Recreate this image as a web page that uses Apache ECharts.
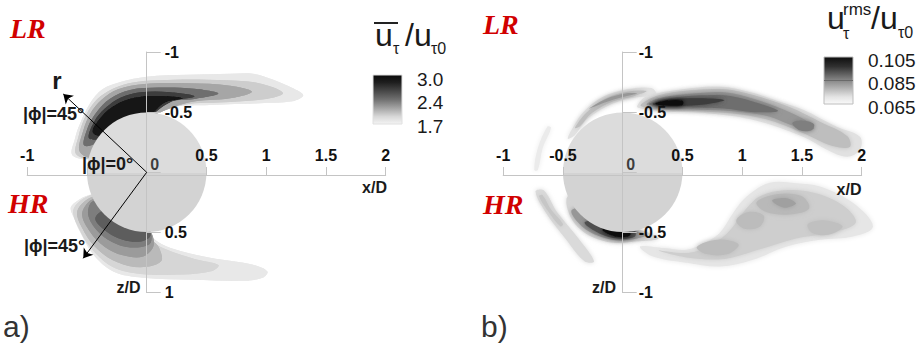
<!DOCTYPE html>
<html><head><meta charset="utf-8">
<script src="https://cdn.jsdelivr.net/npm/echarts@6/dist/echarts.min.js"></script>
<style>html,body{margin:0;padding:0;background:#fff}#c{width:916px;height:345px}</style>
</head><body><div id="c"></div>
<script>
// ---------- data ----------
const xTicks = [-1, -0.5, 0, 0.5, 1, 1.5, 2];
const xTickLabelsA = ['-1', '', '', '0.5', '1', '1.5', '2'];
const xTickLabelsB = ['-1', '-0.5', '', '0.5', '1', '1.5', '2'];
const zTicks = [-1, -0.5, 0, 0.5, 1];
const zTickLabelsA = ['-1', '-0.5', '', '0.5', '1'];
const zTickLabelsB = ['-1', '-0.5', '', '-0.5', '-1'];
const cylinderRadius = 0.5;
const rangeA = [1.7, 3.0];
const rangeB = [0.065, 0.105];
const colorbarLabelsA = ['3.0', '2.4', '1.7'];
const colorbarLabelsB = ['0.105', '0.085', '0.065'];
const arrowsA = [[[0, 0], [-0.698, -0.651]], [[0, 0], [-0.531, 0.715]]];

// panel a: mean wall shear contours (level value, polygon in x/D, z/D)
const levelsA = [1.754, 1.90, 2.11, 2.41, 2.68, 2.89,
                 1.754, 1.85, 2.00, 2.17, 2.33, 2.50];
const shapesA = [
  [[-0.62,-0.14],[-0.60,-0.28],[-0.56,-0.40],[-0.47,-0.58],[-0.37,-0.69],[-0.22,-0.75],[0.0,-0.795],[0.34,-0.81],[0.70,-0.82],[0.89,-0.82],[1.06,-0.77],[1.22,-0.70],[1.31,-0.64],[1.22,-0.59],[0.95,-0.575],[0.53,-0.56],[0.2,-0.54],[0.0,-0.45],[-0.3,-0.3],[-0.42,-0.12]],
  [[-0.59,-0.15],[-0.57,-0.30],[-0.52,-0.45],[-0.44,-0.58],[-0.32,-0.675],[-0.15,-0.74],[0.1,-0.765],[0.5,-0.77],[0.85,-0.755],[1.05,-0.71],[1.14,-0.655],[1.0,-0.61],[0.7,-0.585],[0.3,-0.56],[0.0,-0.45],[-0.3,-0.3],[-0.42,-0.12]],
  [[-0.56,-0.17],[-0.53,-0.35],[-0.47,-0.49],[-0.38,-0.60],[-0.24,-0.69],[-0.02,-0.735],[0.35,-0.74],[0.7,-0.72],[0.88,-0.67],[0.7,-0.615],[0.35,-0.58],[0.0,-0.45],[-0.3,-0.3],[-0.42,-0.12]],
  [[-0.52,-0.22],[-0.49,-0.38],[-0.42,-0.50],[-0.31,-0.61],[-0.14,-0.685],[0.1,-0.705],[0.4,-0.695],[0.6,-0.655],[0.4,-0.61],[0.15,-0.58],[0.0,-0.45],[-0.3,-0.3]],
  [[-0.48,-0.28],[-0.44,-0.42],[-0.35,-0.53],[-0.22,-0.62],[-0.05,-0.665],[0.2,-0.665],[0.4,-0.63],[0.2,-0.585],[0.0,-0.45],[-0.3,-0.3]],
  [[-0.45,-0.33],[-0.38,-0.46],[-0.26,-0.56],[-0.1,-0.62],[0.1,-0.635],[0.3,-0.615],[0.15,-0.58],[0,-0.45],[-0.3,-0.3]],
  [[-0.63,0.28],[-0.60,0.40],[-0.56,0.49],[-0.45,0.68],[-0.28,0.825],[-0.03,0.877],[0.39,0.894],[0.81,0.902],[0.97,0.877],[1.01,0.825],[0.89,0.769],[0.53,0.711],[0.2,0.63],[0.05,0.545],[0,0.45],[-0.3,0.3],[-0.42,0.18]],
  [[-0.61,0.30],[-0.55,0.50],[-0.44,0.66],[-0.28,0.79],[-0.05,0.845],[0.3,0.85],[0.55,0.82],[0.6,0.77],[0.4,0.72],[0.15,0.635],[0.02,0.55],[0,0.45],[-0.3,0.3],[-0.42,0.18]],
  [[-0.58,0.32],[-0.52,0.50],[-0.40,0.65],[-0.24,0.75],[-0.05,0.79],[0.12,0.74],[0.1,0.62],[0.02,0.54],[0,0.45],[-0.3,0.3],[-0.43,0.2]],
  [[-0.54,0.34],[-0.47,0.50],[-0.35,0.62],[-0.2,0.69],[-0.03,0.7],[0.06,0.6],[0,0.45],[-0.3,0.3],[-0.44,0.22]],
  [[-0.49,0.35],[-0.41,0.49],[-0.29,0.58],[-0.14,0.625],[0.02,0.6],[0.04,0.53],[0,0.45],[-0.3,0.3],[-0.45,0.24]],
  [[-0.43,0.38],[-0.34,0.49],[-0.2,0.56],[-0.05,0.575],[0.03,0.53],[0,0.45],[-0.3,0.3]]
];

// panel b: rms wall shear contours
const levelsB = [0.0678, 0.0736, 0.0800,
                 0.0678, 0.0736, 0.0800, 0.0868, 0.0951, 0.1025, 0.0840,
                 0.0700, 0.0800, 0.0920, 0.1025,
                 0.0690, 0.0722,
                 0.0670, 0.0710, 0.0745, 0.0740, 0.0740, 0.0732, 0.0785,
                 0.0662];
const shapesB = [
  [[-0.46,-0.28],[-0.40,-0.40],[-0.33,-0.50],[-0.17,-0.625],[0.04,-0.69],[0.24,-0.70],[0.28,-0.645],[0.06,-0.615],[-0.13,-0.55],[-0.30,-0.44],[-0.40,-0.31]],
  [[-0.40,-0.37],[-0.30,-0.50],[-0.15,-0.61],[0.04,-0.67],[0.2,-0.675],[0.1,-0.635],[-0.08,-0.59],[-0.26,-0.49],[-0.36,-0.38]],
  [[-0.28,-0.53],[-0.14,-0.61],[0.02,-0.655],[0.12,-0.655],[0.0,-0.625],[-0.15,-0.58]],
  [[0.12,-0.547],[0.2,-0.63],[0.5,-0.69],[0.81,-0.713],[1.09,-0.661],[1.3,-0.59],[1.51,-0.52],[1.79,-0.378],[1.985,-0.295],[1.985,-0.187],[1.877,-0.129],[1.71,-0.187],[1.51,-0.295],[1.09,-0.436],[0.67,-0.495],[0.4,-0.503],[0.17,-0.528]],
  [[0.15,-0.56],[0.3,-0.64],[0.55,-0.68],[0.85,-0.69],[1.1,-0.64],[1.4,-0.54],[1.65,-0.42],[1.88,-0.30],[1.9,-0.21],[1.75,-0.22],[1.5,-0.33],[1.2,-0.44],[0.9,-0.49],[0.6,-0.51],[0.35,-0.52],[0.2,-0.535]],
  [[0.2,-0.565],[0.35,-0.625],[0.6,-0.655],[0.85,-0.665],[1.1,-0.61],[1.35,-0.52],[1.55,-0.42],[1.6,-0.36],[1.45,-0.38],[1.2,-0.47],[0.9,-0.51],[0.55,-0.525],[0.3,-0.535]],
  [[0.22,-0.57],[0.4,-0.615],[0.65,-0.64],[0.9,-0.635],[1.15,-0.57],[1.3,-0.51],[1.1,-0.5],[0.85,-0.53],[0.55,-0.54],[0.3,-0.545]],
  [[0.25,-0.57],[0.4,-0.605],[0.65,-0.615],[0.85,-0.6],[0.7,-0.565],[0.45,-0.55],[0.3,-0.552]],
  [[0.27,-0.57],[0.36,-0.595],[0.5,-0.595],[0.5,-0.56],[0.36,-0.555]],
  [[1.42,-0.41],[1.5,-0.43],[1.6,-0.4],[1.58,-0.35],[1.48,-0.35]],
  [[-0.47,0.22],[-0.45,0.34],[-0.38,0.45],[-0.25,0.54],[-0.08,0.585],[0.1,0.575],[0.3,0.55],[0.15,0.48],[0,0.45],[-0.3,0.3],[-0.42,0.18]],
  [[-0.43,0.32],[-0.34,0.45],[-0.2,0.53],[-0.05,0.565],[0.12,0.55],[0.2,0.52],[0,0.45],[-0.3,0.3]],
  [[-0.32,0.42],[-0.19,0.51],[-0.04,0.55],[0.1,0.535],[0.1,0.48],[0,0.45],[-0.2,0.4]],
  [[-0.17,0.48],[-0.05,0.535],[0.06,0.525],[0.05,0.47],[-0.1,0.45]],
  [[-0.73,0.16],[-0.64,0.34],[-0.48,0.55],[-0.32,0.74],[-0.24,0.74],[-0.37,0.55],[-0.55,0.33],[-0.66,0.15]],
  [[-0.70,0.20],[-0.62,0.33],[-0.52,0.45],[-0.50,0.43],[-0.60,0.31],[-0.67,0.19]],
  [[0.145,0.617],[0.35,0.63],[0.536,0.644],[0.7,0.58],[0.814,0.503],[0.93,0.33],[1.038,0.201],[1.23,0.087],[1.45,0.09],[1.65,0.118],[1.926,0.254],[2.094,0.45],[1.926,0.534],[1.65,0.561],[1.372,0.617],[1.09,0.727],[0.814,0.783],[0.536,0.752],[0.254,0.70]],
  [[0.3,0.65],[0.55,0.67],[0.75,0.6],[0.9,0.48],[1.02,0.32],[1.15,0.2],[1.35,0.15],[1.6,0.17],[1.85,0.28],[1.95,0.42],[1.75,0.5],[1.45,0.55],[1.15,0.64],[0.85,0.72],[0.55,0.71]],
  [[1.12,0.25],[1.3,0.18],[1.5,0.2],[1.56,0.3],[1.4,0.35],[1.2,0.33]],
  [[0.95,0.4],[1.05,0.33],[1.18,0.36],[1.15,0.45],[1.02,0.47]],
  [[0.62,0.62],[0.8,0.56],[0.97,0.6],[0.88,0.68],[0.7,0.68]],
  [[1.55,0.43],[1.7,0.4],[1.84,0.45],[1.72,0.52],[1.58,0.5]],
  [[1.25,0.235],[1.37,0.215],[1.45,0.26],[1.35,0.295]],
  [[-0.74,-0.02],[-0.71,-0.20],[-0.63,-0.38],[-0.60,-0.37],[-0.67,-0.20],[-0.71,-0.02]]
];

// ---------- chart ----------
const FONT = '"Liberation Sans", Arial, sans-serif';
const chart = echarts.init(document.getElementById('c'), null, {renderer: 'svg'});
const GRID_H = 240.6, GRID_W = 358.5;

function tickLabel(ticks, labels) {
  return function (v) { const i = ticks.findIndex(t => Math.abs(t - v) < 1e-9); return i < 0 ? '' : labels[i]; };
}
function xAxisCfg(gi, labels) {
  return {type: 'value', gridIndex: gi, min: -1, max: 2, interval: 0.5, z: 5,
    position: 'bottom', offset: -(GRID_H / 2 - 2.7),
    axisLine: {onZero: false, lineStyle: {color: '#c4c4c4', width: 1}},
    axisTick: {show: true, inside: true, length: 8, lineStyle: {color: '#c4c4c4'}},
    axisLabel: {inside: true, margin: 12, showMinLabel: true, showMaxLabel: true,
      formatter: tickLabel(xTicks, labels), color: '#111', fontWeight: 'bold', fontSize: 16, fontFamily: FONT},
    splitLine: {show: false}};
}
function yAxisCfg(gi, labels, margin) {
  return {type: 'value', gridIndex: gi, min: -1, max: 1, interval: 0.5, inverse: true, z: 5,
    position: 'left', offset: -(GRID_W / 3),
    axisLine: {onZero: false, lineStyle: {color: '#c4c4c4', width: 1}},
    axisTick: {show: true, inside: true, length: 14, lineStyle: {color: '#c4c4c4'}},
    axisLabel: {inside: true, margin: margin, showMinLabel: true, showMaxLabel: true,
      formatter: tickLabel(zTicks, labels), color: '#111', fontWeight: 'bold', fontSize: 16, fontFamily: FONT},
    splitLine: {show: false}};
}
function contourSeries(gi, levels, shapes, blur) {
  const order = levels.map((v, i) => [i, v]).sort((a, b) => a[1] - b[1]);
  return {type: 'custom', xAxisIndex: gi, yAxisIndex: gi, z: 2, silent: true, clip: false,
    data: order,
    renderItem: function (params, api) {
      const pts = shapes[api.value(0)].map(p => api.coord(p));
      const col = api.visual('color');
      return {type: 'polygon', shape: {points: pts, smooth: 0.35},
        style: {fill: col, shadowBlur: blur, shadowColor: col}};
    }};
}
function cylinderSeries(gi) {
  return {type: 'custom', xAxisIndex: gi, yAxisIndex: gi, z: 3, silent: true,
    data: [[0, 0, cylinderRadius]],
    renderItem: function (params, api) {
      const c = api.coord([api.value(0), api.value(1)]);
      const r = api.size([api.value(2), 0])[0];
      return {type: 'group', children: [
        {type: 'sector', shape: {cx: c[0], cy: c[1], r: r, startAngle: Math.PI, endAngle: 2 * Math.PI}, style: {fill: '#dcdcdc'}},
        {type: 'sector', shape: {cx: c[0], cy: c[1], r: r, startAngle: 0, endAngle: Math.PI}, style: {fill: '#d3d3d3'}}
      ]};
    }};
}
function zeroLabel(gi) {
  return {type: 'scatter', xAxisIndex: gi, yAxisIndex: gi, z: 6, silent: true, symbolSize: 0,
    data: [[0, 0]],
    label: {show: true, position: 'inside', offset: [8, -8], formatter: '0',
      color: '#111', fontWeight: 'bold', fontSize: 16, fontFamily: FONT}};
}
function T(x, y, text, font, extra) {
  return Object.assign({type: 'text', x: x, y: y, z: 100, silent: true,
    style: Object.assign({text: text, font: font, fill: '#1a1a1a', textAlign: 'left', align: 'left',
      textVerticalAlign: 'middle', verticalAlign: 'middle'}, extra || {})});
}
const RED = '#d10000';
const LRF = 'italic bold 28px "Liberation Serif", "Times New Roman", serif';
const B16 = 'bold 16px ' + FONT;
const B18 = 'bold 18px ' + FONT;
const N19 = '19px ' + FONT;
const N32 = '32px ' + FONT;
const N16 = '16px ' + FONT;
const N17 = '17px ' + FONT;
const C = {textAlign: 'center', align: 'center'};

const graphics = [
  T(10, 28, 'LR', LRF, {fill: RED}),
  T(8, 203, 'HR', LRF, {fill: RED}),
  T(483, 24, 'LR', LRF, {fill: RED}),
  T(483, 204, 'HR', LRF, {fill: RED}),
  T(3, 326, 'a)', '30px ' + FONT, {fill: '#333'}),
  T(481, 326, 'b)', '30px ' + FONT, {fill: '#333'}),
  T(23, 114, '|ϕ|=45°', B18),
  T(82, 164, '|ϕ|=0°', B18),
  T(24, 246, '|ϕ|=45°', B18),
  T(57, 80, 'r', 'bold 24px ' + FONT, C),
  T(374.5, 187, 'x/D', B16, C),
  T(128.5, 287, 'z/D', B16, C),
  T(849, 189, 'x/D', B16, C),
  T(604, 287, 'z/D', B16, C),
  // legend a
  {type: 'rect', shape: {x: 373, y: 75, width: 29, height: 49}, z: 90, silent: true,
    style: {fill: {type: 'linear', x: 0, y: 0, x2: 0, y2: 1, colorStops: [
      {offset: 0, color: '#0a0a0a'}, {offset: 0.15, color: '#1e1e1e'}, {offset: 0.5, color: '#707070'},
      {offset: 0.85, color: '#d8d8d8'}, {offset: 1, color: '#f4f4f4'}]}, stroke: '#e0e0e0', lineWidth: 1}},
  T(417, 79, colorbarLabelsA[0], N19),
  T(417, 102, colorbarLabelsA[1], N19),
  T(417, 126, colorbarLabelsA[2], N19),
  {type: 'line', shape: {x1: 374, y1: 23, x2: 398, y2: 23}, z: 100, silent: true, style: {stroke: '#222', lineWidth: 2}},
  T(375, 35, 'u', N32),
  T(393, 48, 'τ', N16),
  T(405, 35, '/u', N32),
  T(431, 48, 'τ0', N16),
  // legend b
  {type: 'rect', shape: {x: 824, y: 57, width: 29, height: 47}, z: 90, silent: true,
    style: {fill: {type: 'linear', x: 0, y: 0, x2: 0, y2: 1, colorStops: [
      {offset: 0, color: '#0e0e0e'}, {offset: 0.2, color: '#303030'}, {offset: 0.5, color: '#888888'},
      {offset: 0.85, color: '#e4e4e4'}, {offset: 1, color: '#fafafa'}]}, stroke: '#bdbdbd', lineWidth: 1}},
  {type: 'line', shape: {x1: 824, y1: 80.5, x2: 853, y2: 80.5}, z: 91, silent: true, style: {stroke: '#6a6a6a', lineWidth: 1}},
  T(868, 60, colorbarLabelsB[0], N19),
  T(868, 83, colorbarLabelsB[1], N19),
  T(868, 107, colorbarLabelsB[2], N19),
  T(827, 18, 'u', N32),
  T(843, 9, 'rms', N17),
  T(843, 33, 'τ', N16),
  T(871, 18, '/u', N32),
  T(898, 32, 'τ0', N16)
];

chart.setOption({
  animation: false,
  backgroundColor: '#ffffff',
  grid: [
    {left: 27.2, top: 52, width: GRID_W, height: GRID_H, outerBoundsMode: 'none', containLabel: false},
    {left: 503.2, top: 52, width: GRID_W, height: GRID_H, outerBoundsMode: 'none', containLabel: false}
  ],
  xAxis: [xAxisCfg(0, xTickLabelsA), xAxisCfg(1, xTickLabelsB)],
  yAxis: [yAxisCfg(0, zTickLabelsA, 18), yAxisCfg(1, zTickLabelsB, 16)],
  visualMap: [
    {type: 'continuous', show: false, seriesIndex: 0, dimension: 1, min: rangeA[0], max: rangeA[1],
      inRange: {color: ['#f2f2f2', '#000000']}},
    {type: 'continuous', show: false, seriesIndex: 4, dimension: 1, min: rangeB[0], max: rangeB[1],
      inRange: {color: ['#f2f2f2', '#000000']}}
  ],
  series: [
    contourSeries(0, levelsA, shapesA, 1.5),
    cylinderSeries(0),
    {type: 'lines', coordinateSystem: 'cartesian2d', xAxisIndex: 0, yAxisIndex: 0, z: 6, silent: true,
      symbol: ['none', 'arrow'], symbolSize: 9,
      lineStyle: {color: '#000', width: 1, opacity: 1},
      data: arrowsA.map(a => ({coords: a}))},
    zeroLabel(0),
    contourSeries(1, levelsB, shapesB, 5),
    cylinderSeries(1),
    zeroLabel(1)
  ],
  graphic: graphics
});
</script>
</body></html>
